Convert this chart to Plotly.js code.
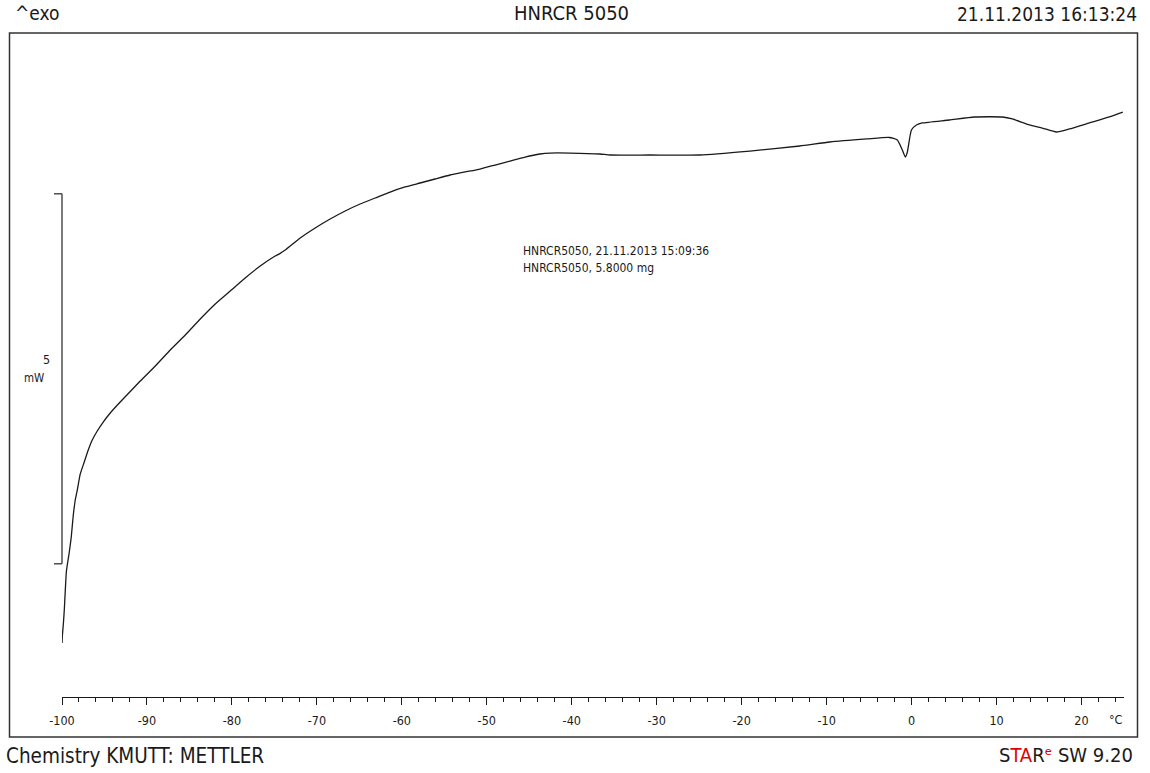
<!DOCTYPE html>
<html>
<head>
<meta charset="utf-8">
<script src="https://cdn.plot.ly/plotly-3.0.1.min.js"></script>
<style>
html,body{margin:0;padding:0;background:#fff;}
#chart{width:1150px;height:773px;}
</style>
</head>
<body>
<div id="chart"></div>
<script>
// Temperature (°C)
const temperature = [-99.99,-99.96,-99.85,-99.73,-99.61,-99.49,-99.38,-99.14,-98.91,-98.67,-98.44,-98.20,-97.85,-97.38,-96.91,-96.44,-95.85,-95.15,-94.32,-93.15,-90.79,
  -89.02,-87.26,-85.49,-83.73,-81.96,-80.20,-78.44,-76.67,-74.91,-74.32,-73.73,-71.96,-70.20,-68.44,-66.67,-64.91,-63.14,-61.38,-59.61,-57.85,-56.09,-54.32,-52.56,-50.80,-49.03,-47.27,-45.50,-43.74,-42.56,-40.21,-36.68,-35.50,-30.80,-24.92,-19.04,-13.16,-9.62,-5.27,-2.62,-1.68,-1.09,-0.73,-0.50,-0.02,0.57,1.27,4.45,7.39,10.69,11.86,13.86,15.39,17.04,18.57,20.92,23.27,24.86];
// Heat flow (mW, relative, ^exo up)
const heatFlow = [0.730,0.824,0.973,1.176,1.446,1.689,1.784,1.959,2.162,2.459,2.662,2.797,3.014,3.176,3.338,3.473,3.595,3.716,3.838,3.986,4.270,
  4.473,4.689,4.892,5.108,5.311,5.486,5.662,5.824,5.959,5.995,6.040,6.203,6.338,6.459,6.568,6.662,6.743,6.824,6.892,6.946,7.000,7.054,7.095,7.135,7.189,7.243,7.297,7.338,7.351,7.351,7.338,7.324,7.324,7.324,7.378,7.446,7.500,7.541,7.561,7.527,7.392,7.297,7.365,7.662,7.730,7.757,7.797,7.838,7.838,7.811,7.730,7.689,7.635,7.676,7.757,7.838,7.905];

const tickValues = [-100,-90,-80,-70,-60,-50,-40,-30,-20,-10,0,10,20];
const tickLabels = ['-100','-90','-80','-70','-60','-50','-40','-30','-20','-10','0','10','20'];

const sampleName = 'HNRCR 5050';
const printDate = '21.11.2013 16:13:24';
const infoLine1 = 'HNRCR5050, 21.11.2013 15:09:36';
const infoLine2 = 'HNRCR5050, 5.8000 mg';
const footerLeft = 'Chemistry KMUTT: METTLER';
const scaleBarLow = 1.8, scaleBarHigh = 6.8; // 5 mW

const FONT = 'Liberation Sans Narrow, DejaVu Sans Condensed, Arial Narrow, sans-serif';
const INK = '#1a1a1a';

const L = 62, R = 26, T = 33, B = 76, W = 1150, H = 773;
const pw = W - L - R, ph = H - T - B;
const px = x => (x - L) / pw;
const py = y => (H - B - y) / ph;

const trace = {
  x: temperature, y: heatFlow, type: 'scatter', mode: 'lines',
  line: {color: INK, width: 1.3, shape: 'spline', smoothing: 0.5},
  hoverinfo: 'skip', showlegend: false
};

const ann = (text, x, y, xa, size, extra) => Object.assign({
  text: text, xref: 'paper', yref: 'paper', x: px(x), y: py(y),
  xanchor: xa, yanchor: 'middle', showarrow: false,
  font: {family: FONT, size: size, color: INK}
}, extra || {});

const layout = {
  width: W, height: H,
  margin: {l: L, r: R, t: T, b: B, pad: 0},
  paper_bgcolor: '#fff', plot_bgcolor: '#fff',
  showlegend: false,
  xaxis: {
    range: [-100, 25], showgrid: false, zeroline: false,
    showline: true, linecolor: INK, linewidth: 1,
    ticks: 'outside', ticklen: 7, tickwidth: 1, tickcolor: INK,
    tickmode: 'array', tickvals: tickValues, ticktext: tickLabels,
    tickfont: {family: FONT, size: 12.5, color: INK},
    ticklabelstandoff: 5,
    minor: {dtick: 2, tick0: 0, ticks: 'outside', ticklen: 4, tickwidth: 1, tickcolor: INK, showgrid: false},
    fixedrange: true
  },
  yaxis: {range: [0, ph / 74], visible: false, fixedrange: true},
  shapes: [
    {type: 'rect', xref: 'paper', yref: 'paper', x0: px(9.5), x1: px(1137.5), y0: py(737), y1: py(33),
     line: {color: '#333', width: 1.5}},
    {type: 'line', xref: 'paper', yref: 'y', x0: 0, x1: 0, y0: scaleBarLow, y1: scaleBarHigh, line: {color: '#333', width: 1.3}},
    {type: 'line', xref: 'paper', yref: 'y', x0: px(54), x1: 0, y0: scaleBarLow, y1: scaleBarLow, line: {color: '#333', width: 1.3}},
    {type: 'line', xref: 'paper', yref: 'y', x0: px(54), x1: 0, y0: scaleBarHigh, y1: scaleBarHigh, line: {color: '#333', width: 1.3}}
  ],
  annotations: [
    ann('^exo', 13, 13, 'left', 19),
    ann(sampleName, 571, 13, 'center', 20),
    ann(printDate, 1139, 14, 'right', 19),
    ann(footerLeft, 4, 756, 'left', 20.5),
    ann('S<span style="color:#e00000">TA</span>R<span style="color:#e00000">ᵉ</span> SW 9.20', 1135, 755, 'right', 20),
    ann('5', 52, 359, 'right', 12.5),
    ann('mW', 46, 378, 'right', 11.5),
    ann(infoLine1, 521, 251, 'left', 12),
    ann(infoLine2, 521, 268, 'left', 12),
    ann('°C', 1116, 719, 'center', 12.5)
  ]
};

Plotly.newPlot('chart', [trace], layout, {staticPlot: true, displayModeBar: false});
</script>
</body>
</html>
